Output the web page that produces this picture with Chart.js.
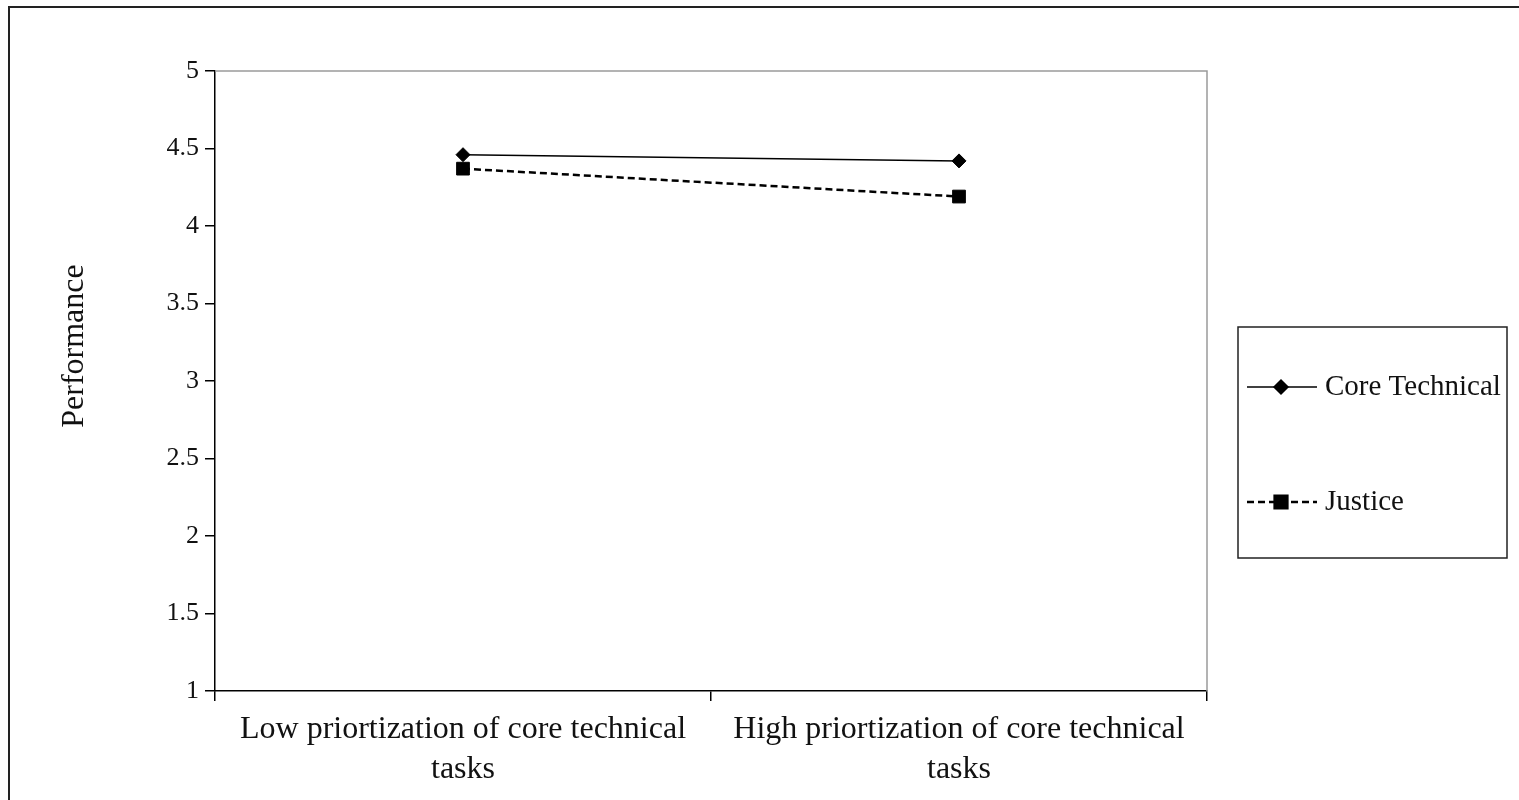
<!DOCTYPE html>
<html lang="en">
<head>
    <meta charset="UTF-8">
    <title>Performance by prioritization</title>
    <script src="https://cdn.jsdelivr.net/npm/chart.js"></script>
    <style>
        html, body { margin: 0; padding: 0; background: #fff; overflow: hidden; }
        .frame {
            position: absolute; left: 8px; top: 6px; width: 1600px; height: 900px;
            border: 2px solid #222; box-sizing: border-box;
        }
        .chart-box { position: absolute; left: 0; top: 0; width: 1519px; height: 800px; }
    </style>
</head>
<body>
    <div class="frame"></div>
    <div class="chart-box"><canvas id="chart"></canvas></div>
    <script>
    // chart data
    const categories = [
        ['Low priortization of core technical', 'tasks'],
        ['High priortization of core technical', 'tasks']
    ];
    const coreTechnical = [4.46, 4.42];
    const justice = [4.37, 4.19];
    const seriesNames = ['Core Technical', 'Justice'];
    const yTicks = [1, 1.5, 2, 2.5, 3, 3.5, 4, 4.5, 5];
    const yTitle = 'Performance';

    const serif = '"Liberation Serif", "Times New Roman", serif';

    // gray top/right edge of the plot area
    const plotFrame = {
        id: 'plotFrame',
        afterDraw(chart) {
            const a = chart.chartArea, ctx = chart.ctx;
            ctx.save();
            ctx.strokeStyle = '#9a9a9a';
            ctx.lineWidth = 1.5;
            ctx.beginPath();
            ctx.moveTo(a.left, a.top);
            ctx.lineTo(a.right, a.top);
            ctx.lineTo(a.right, a.bottom);
            ctx.stroke();
            ctx.restore();
        }
    };

    // y axis title sits a bit above the middle in the original
    const sideTitle = {
        id: 'sideTitle',
        afterDraw(chart) {
            const ctx = chart.ctx;
            ctx.save();
            ctx.translate(75, 346);
            ctx.rotate(-Math.PI / 2);
            ctx.fillStyle = '#111';
            ctx.font = '32px ' + serif;
            ctx.textAlign = 'center';
            ctx.textBaseline = 'middle';
            ctx.fillText(yTitle, 0, 0);
            ctx.restore();
        }
    };

    // boxed legend like the spreadsheet one
    const boxLegend = {
        id: 'boxLegend',
        afterDraw(chart) {
            const ctx = chart.ctx;
            ctx.save();
            ctx.strokeStyle = '#222';
            ctx.lineWidth = 1.5;
            ctx.strokeRect(1238, 327, 269, 231);
            const rows = [387, 502];
            chart.data.datasets.forEach((ds, i) => {
                const y = rows[i];
                ctx.strokeStyle = '#000';
                ctx.lineWidth = ds.borderWidth;
                ctx.setLineDash(ds.borderDash || []);
                ctx.beginPath();
                ctx.moveTo(1247, y);
                ctx.lineTo(1317, y);
                ctx.stroke();
                ctx.setLineDash([]);
                Chart.helpers.drawPoint(ctx, {
                    pointStyle: ds.pointStyle,
                    radius: ds.pointRadius,
                    borderWidth: 1
                }, 1281, y);
                ctx.fillStyle = '#000';
                ctx.fill();
                ctx.fillStyle = '#111';
                ctx.font = '29px ' + serif;
                ctx.textBaseline = 'middle';
                ctx.fillText(ds.label, 1325, y);
            });
            ctx.restore();
        }
    };

    new Chart(document.getElementById('chart'), {
        type: 'line',
        data: {
            labels: categories,
            datasets: [{
                label: seriesNames[0],
                data: coreTechnical,
                borderColor: '#000',
                backgroundColor: '#000',
                borderWidth: 1.5,
                pointStyle: 'rectRot',
                pointRadius: 7,
                pointBorderWidth: 1
            }, {
                label: seriesNames[1],
                data: justice,
                borderColor: '#000',
                backgroundColor: '#000',
                borderWidth: 2.5,
                borderDash: [7, 4],
                pointStyle: 'rect',
                pointRadius: 9,
                pointBorderWidth: 1
            }]
        },
        options: {
            responsive: true,
            maintainAspectRatio: false,
            animation: false,
            layout: { padding: { left: 0, top: 71, right: 312, bottom: 0 } },
            plugins: { legend: { display: false }, tooltip: { enabled: false } },
            scales: {
                x: {
                    offset: true,
                    afterFit(s) { s.height = 109; },
                    grid: { offset: true, drawOnChartArea: false, tickLength: 10, color: '#000', lineWidth: 1.5 },
                    border: { color: '#000', width: 1.5 },
                    ticks: {
                        color: '#111',
                        font: { family: serif, size: 32, lineHeight: 1.25 },
                        padding: 9,
                        maxRotation: 0
                    }
                },
                y: {
                    min: 1,
                    max: 5,
                    afterFit(s) { s.width = 215; },
                    afterBuildTicks(s) { s.ticks = yTicks.map(v => ({ value: v })); },
                    grid: { drawOnChartArea: false, tickLength: 10, color: '#000', lineWidth: 1.5 },
                    border: { color: '#000', width: 1.5 },
                    ticks: {
                        color: '#111',
                        font: { family: serif, size: 26 },
                        padding: 6,
                        callback: v => String(v)
                    }
                }
            }
        },
        plugins: [plotFrame, sideTitle, boxLegend]
    });
    </script>
</body>
</html>
